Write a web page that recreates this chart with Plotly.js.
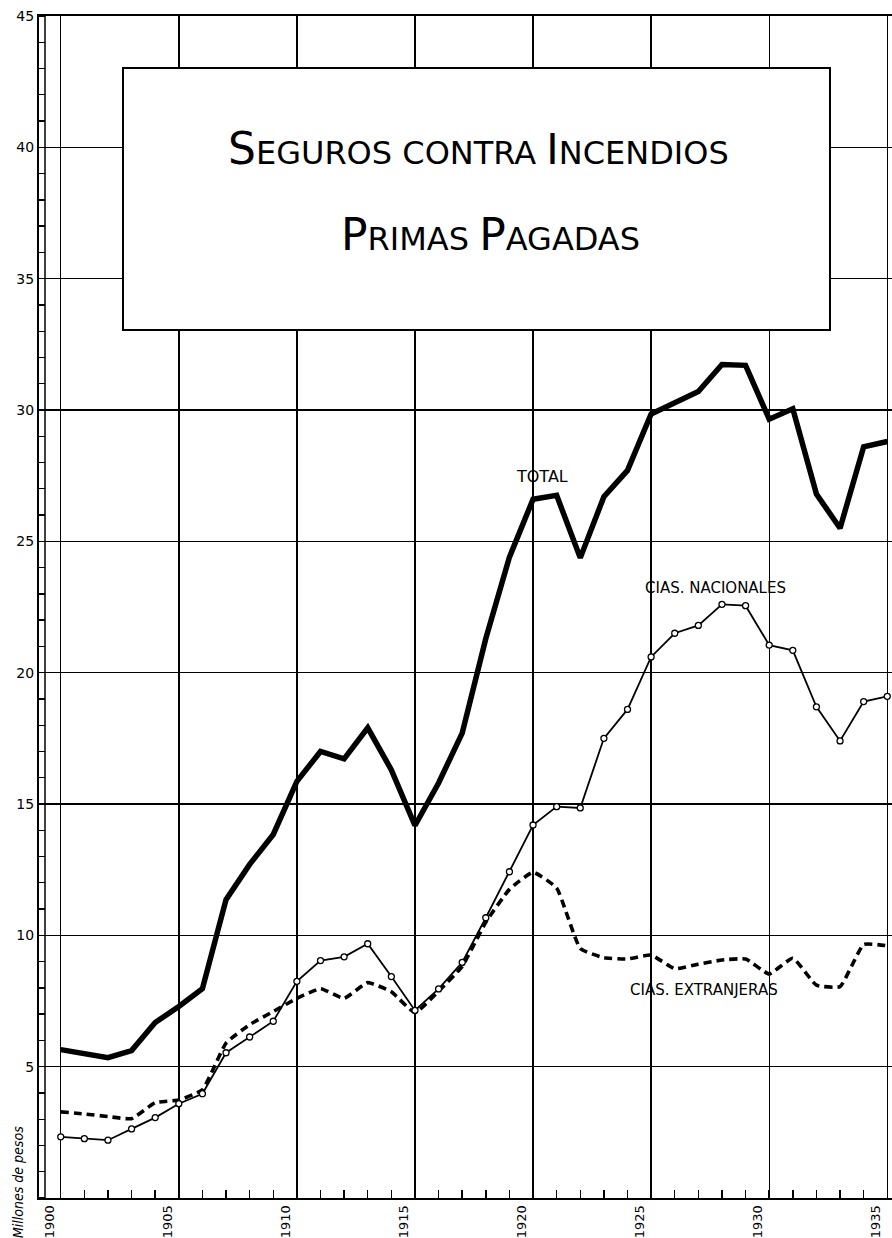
<!DOCTYPE html>
<html>
<head>
<meta charset="utf-8">
<script src="https://cdn.plot.ly/plotly-3.0.1.min.js"></script>
<style>html,body{margin:0;padding:0;background:#fff;}#chart{width:892px;height:1238px;}</style>
</head>
<body>
<div id="chart"></div>
<script>
// ---- data ----
const years = [1900,1901,1902,1903,1904,1905,1906,1907,1908,1909,1910,1911,1912,1913,1914,1915,1916,1917,1918,1919,1920,1921,1922,1923,1924,1925,1926,1927,1928,1929,1930,1931,1932,1933,1934,1935];
const total = [5.65,5.5,5.34,5.61,6.68,7.29,7.97,11.36,12.7,13.84,15.86,17.0,16.72,17.9,16.3,14.18,15.8,17.7,21.3,24.4,26.6,26.75,24.37,26.7,27.7,29.85,30.3,30.7,31.73,31.7,29.65,30.05,26.8,25.5,28.6,28.8];
const nacionales = [2.33,2.26,2.2,2.63,3.06,3.59,3.97,5.53,6.13,6.73,8.25,9.04,9.18,9.68,8.43,7.14,7.96,8.97,10.67,12.42,14.2,14.9,14.85,17.5,18.6,20.6,21.5,21.8,22.6,22.55,21.05,20.85,18.7,17.4,18.9,19.1];
const extranjeras = [3.28,3.2,3.1,3.02,3.63,3.73,4.12,5.9,6.6,7.1,7.6,7.97,7.6,8.2,7.85,7.06,7.87,8.82,10.5,11.75,12.4,11.8,9.5,9.15,9.1,9.25,8.73,8.9,9.06,9.1,8.53,9.13,8.1,8.05,9.65,9.6];
const xTickVals = [1900,1905,1910,1915,1920,1925,1930,1935];
const xTickText = ['1900','1905','1910','1915','1920','1925','1930','1935'];
const yTickVals = [5,10,15,20,25,30,35,40,45];
const yTickText = ['5','10','15','20','25','30','35','40','45'];
const titleLine1 = '<span style="font-size:44px">S</span>EGUROS CONTRA <span style="font-size:42px">I</span>NCENDIOS';
const titleLine2 = '<span style="font-size:44px">P</span>RIMAS <span style="font-size:44px">P</span>AGADAS';
const labelTotal = 'TOTAL';
const labelNac = 'CIAS. NACIONALES';
const labelExt = 'CIAS. EXTRANJERAS';
const yTitle = 'Millones de pesos';

// ---- geometry (pixels) ----
const W = 892, H = 1238;
const M = {l: 39, r: 0, t: 16, b: 40};
const PW = W - M.l - M.r, PH = H - M.t - M.b;
const px = x => (x - M.l) / PW;
const py = y => 1 - (y - M.t) / PH;

const traces = [
  {x: years, y: total, type: 'scatter', mode: 'lines', name: labelTotal,
   line: {color: '#000', width: 5.5}},
  {x: years, y: extranjeras, type: 'scatter', mode: 'lines', name: labelExt,
   line: {color: '#000', width: 3.6, dash: '8px,5px', shape: 'spline', smoothing: 0.4}},
  {x: years, y: nacionales, type: 'scatter', mode: 'lines+markers', name: labelNac,
   line: {color: '#000', width: 1.8},
   marker: {symbol: 'circle', size: 6, color: '#fff', line: {color: '#000', width: 1.3}}}
];

const font = 'DejaVu Sans, Liberation Sans, sans-serif';
const narrow = 'Liberation Sans Narrow, DejaVu Sans Condensed, Liberation Sans, sans-serif';

const layout = {
  width: W, height: H,
  margin: M,
  paper_bgcolor: '#fff', plot_bgcolor: '#fff',
  showlegend: false,
  font: {family: font, color: '#000'},
  xaxis: {
    range: [1899.08, 1935.2],
    tickvals: xTickVals, ticktext: xTickText,
    tickangle: -90,
    ticks: 'inside', ticklen: 8, tickwidth: 1.5, tickcolor: '#000',
    ticklabelshift: -11,
    tickfont: {size: 13, family: font, color: '#000'},
    showgrid: true, gridcolor: '#000', gridwidth: 1.4,
    showline: true, linecolor: '#000', linewidth: 2, mirror: true,
    zeroline: false,
    minor: {dtick: 1, tick0: 1900, ticks: 'inside', ticklen: 8, tickwidth: 1.5, tickcolor: '#000', showgrid: false}
  },
  yaxis: {
    range: [0, 45],
    tickvals: yTickVals, ticktext: yTickText,
    ticks: '',
    tickfont: {size: 14, family: font, color: '#000'},
    showgrid: true, gridcolor: '#000', gridwidth: 1.4,
    showline: true, linecolor: '#000', linewidth: 2,
    zeroline: false,
    minor: {dtick: 1, tick0: 0, ticks: 'inside', ticklen: 6, tickwidth: 1.3, tickcolor: '#000', showgrid: false}
  },
  shapes: [
    {type: 'line', xref: 'paper', yref: 'paper', x0: px(45), x1: px(45), y0: 0, y1: 1,
     line: {color: '#000', width: 1.5}},
    {type: 'rect', xref: 'paper', yref: 'paper', layer: 'above',
     x0: px(123), x1: px(830), y0: py(330), y1: py(68),
     fillcolor: '#fff', line: {color: '#000', width: 2}}
  ],
  annotations: [
    {xref: 'paper', yref: 'paper', x: px(478), y: py(148), text: titleLine1, showarrow: false,
     font: {family: font, size: 32, color: '#000'}, xanchor: 'center', yanchor: 'middle'},
    {xref: 'paper', yref: 'paper', x: px(490), y: py(235), text: titleLine2, showarrow: false,
     font: {family: font, size: 32, color: '#000'}, xanchor: 'center', yanchor: 'middle'},
    {xref: 'paper', yref: 'paper', x: px(542), y: py(476), text: labelTotal, showarrow: false,
     font: {family: font, size: 16, color: '#000'}, xanchor: 'center', yanchor: 'middle'},
    {xref: 'paper', yref: 'paper', x: px(715), y: py(588), text: labelNac, showarrow: false,
     font: {family: font, size: 15, color: '#000'}, xanchor: 'center', yanchor: 'middle'},
    {xref: 'paper', yref: 'paper', x: px(704), y: py(990), text: labelExt, showarrow: false,
     font: {family: font, size: 15, color: '#000'}, xanchor: 'center', yanchor: 'middle'},
    {xref: 'paper', yref: 'paper', x: px(18), y: py(1182), text: yTitle, showarrow: false,
     textangle: -90, font: {family: narrow, size: 14, color: '#000', style: 'italic'},
     xanchor: 'center', yanchor: 'middle'}
  ]
};

Plotly.newPlot('chart', traces, layout, {displayModeBar: false, staticPlot: true});
</script>
</body>
</html>
